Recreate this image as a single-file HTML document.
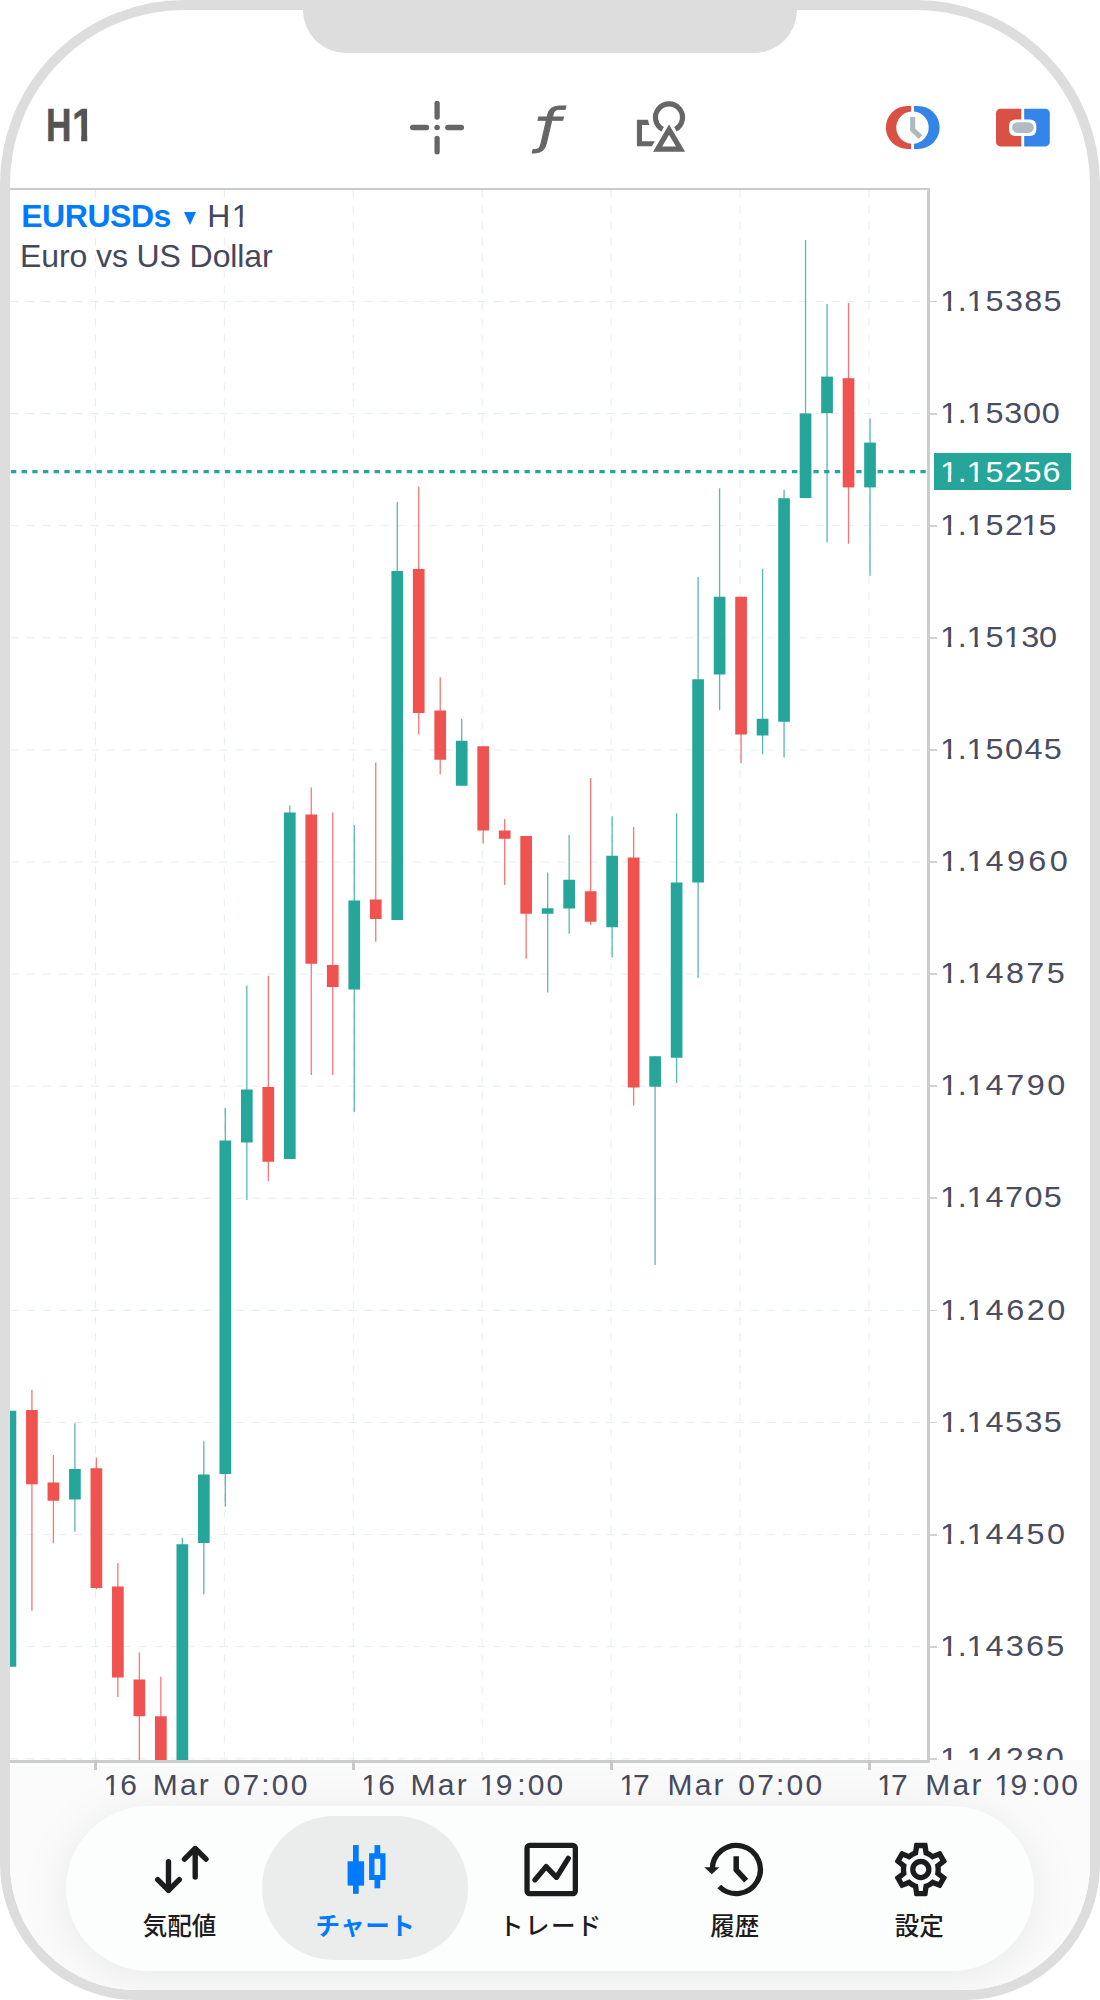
<!DOCTYPE html>
<html lang="ja">
<head>
<meta charset="utf-8">
<title>EURUSDs H1 チャート</title>
<style>
html,body{margin:0;padding:0;background:#fff;}
body{width:1100px;height:2000px;position:relative;overflow:hidden;font-family:"Liberation Sans","Noto Sans CJK JP",sans-serif;}
.frame{position:absolute;left:0;top:0;width:1100px;height:2000px;box-sizing:border-box;border:10px solid #dddddd;border-radius:184px 184px 136px 136px;overflow:hidden;background:#fff;}
.inner{position:absolute;left:-10px;top:-10px;width:1100px;height:2000px;}
.notch{position:absolute;left:303px;top:0;width:494px;height:52.5px;background:#dddddd;border-radius:0 0 43px 43px;}
.h1{position:absolute;top:98px;font-weight:bold;font-size:47px;line-height:54px;color:#545454;transform-origin:0 0;-webkit-text-stroke:0.6px #545454;}
.bottombg{position:absolute;left:0;top:1760px;width:1100px;height:238px;background:#fbfbfb;}
.ctop{position:absolute;left:10px;top:188px;width:919.8px;height:2px;background:#c9cbca;}
.cright{position:absolute;left:927.1px;top:188px;width:2.7px;height:1574.8px;background:#cbcccc;border-radius:0 0 2px 0;}
.cbot{position:absolute;left:10px;top:1760.1px;width:919.8px;height:2.7px;background:#cbcccc;border-radius:0 0 2px 0;}
.chartsvg{position:absolute;left:0;top:0;}
.title1{position:absolute;left:21.2px;top:198px;font-size:32px;line-height:36px;color:#45485a;white-space:nowrap;}
.title1 b{color:#007aff;letter-spacing:-0.45px;}
.title1 .tri{display:inline-block;width:0;height:0;border-left:6px solid transparent;border-right:6px solid transparent;border-top:13px solid #007aff;margin:0 11.3px 1.8px 13px;vertical-align:baseline;}
.title2{position:absolute;left:20px;top:237.6px;font-size:32px;letter-spacing:-0.1px;line-height:36px;color:#45485a;white-space:nowrap;}
.paxis{position:absolute;left:929.8px;top:190px;width:160.2px;height:1570px;overflow:hidden;}
.paxis .wrap{position:absolute;left:-929.8px;top:-190px;width:1100px;height:2000px;}
.pl i,.tl i,.pcur i{font-style:normal;}
.o2{display:inline-block;clip-path:polygon(0 0,100% 0,100% 20px,11px 20px,11px 100%,7.7px 100%,7.7px 20px,0 20px);}
.o{display:inline-block;clip-path:polygon(0 0,100% 0,100% 22px,10.5px 22px,10.5px 100%,7.2px 100%,7.2px 22px,0 22px);}
.pa{letter-spacing:-0.2px;}.pa2{letter-spacing:-0.2px;}.pb{letter-spacing:0.9px;}
.k1{letter-spacing:-2.8px;}.k1b{letter-spacing:0.2px;}.k2b{letter-spacing:5.2px;}.k5{letter-spacing:4.2px;}.k2{letter-spacing:7.2px;}.k3{letter-spacing:-0.3px;}.k4{letter-spacing:4.7px;}
.pl{position:absolute;left:940.4px;height:40px;line-height:40px;font-size:30px;letter-spacing:1.2px;transform:scaleX(1.08);transform-origin:0 50%;color:#4a4d5f;white-space:nowrap;}
.ptick{position:absolute;left:929.8px;width:7.2px;height:1.9px;background:#cfd0d0;}
.pcur{position:absolute;left:934px;top:453px;width:137px;height:37px;background:#26a69a;color:#fff;font-size:30px;letter-spacing:1.2px;line-height:37px;box-sizing:border-box;padding-left:6.4px;white-space:nowrap;}
.pcs{display:inline-block;transform:scaleX(1.08);transform-origin:0 50%;}
.ttick{position:absolute;top:1760px;width:2.6px;height:9.5px;background:#c8c8c8;}
.tl{position:absolute;top:1764.6px;height:40px;line-height:40px;font-size:30px;letter-spacing:2.2px;color:#484b5d;white-space:nowrap;}
.tabbar{position:absolute;left:66px;top:1805.5px;width:968px;height:165.5px;border-radius:83px;background:#fcfdfd;box-shadow:0 6px 50px rgba(0,0,0,0.08);}
.tabactive{position:absolute;left:262px;top:1816px;width:206px;height:144px;border-radius:72px;background:#ebecec;}
.tlabel{position:absolute;top:1909px;width:200px;text-align:center;font-size:24.5px;line-height:36px;color:#1c1c1e;font-weight:500;white-space:nowrap;}
.tlabel.act{color:#007aff;font-weight:700;}
.icons{position:absolute;left:0;top:0;}
</style>
</head>
<body>
<div class="frame"><div class="inner">
<div class="bottombg"></div>
<div class="notch"></div>
<div class="h1" style="left:45.7px;transform:scaleX(0.75)">H</div><div class="h1" style="left:72.2px;transform:scaleX(0.864);clip-path:polygon(0 0,17.8px 0,17.8px 100%,10.6px 100%,10.6px 30px,0 30px)">1</div>

<svg class="chartsvg" width="1100" height="2000" viewBox="0 0 1100 2000">
<defs><clipPath id="cc"><rect x="10" y="190" width="918" height="1570"/></clipPath></defs>
<rect x="10" y="190" width="918" height="1570" fill="#fff"/>
<rect x="929" y="190" width="161" height="1570" fill="#fff"/>
<g clip-path="url(#cc)">
<line x1="10.2" y1="301.50" x2="928" y2="301.50" stroke="#e4edf4" stroke-width="1" stroke-dasharray="8.05 8.05"/>
<line x1="10.2" y1="413.60" x2="928" y2="413.60" stroke="#e4edf4" stroke-width="1" stroke-dasharray="8.05 8.05"/>
<line x1="10.2" y1="525.70" x2="928" y2="525.70" stroke="#e4edf4" stroke-width="1" stroke-dasharray="8.05 8.05"/>
<line x1="10.2" y1="637.80" x2="928" y2="637.80" stroke="#e4edf4" stroke-width="1" stroke-dasharray="8.05 8.05"/>
<line x1="10.2" y1="749.90" x2="928" y2="749.90" stroke="#e4edf4" stroke-width="1" stroke-dasharray="8.05 8.05"/>
<line x1="10.2" y1="862.00" x2="928" y2="862.00" stroke="#e4edf4" stroke-width="1" stroke-dasharray="8.05 8.05"/>
<line x1="10.2" y1="974.10" x2="928" y2="974.10" stroke="#e4edf4" stroke-width="1" stroke-dasharray="8.05 8.05"/>
<line x1="10.2" y1="1086.20" x2="928" y2="1086.20" stroke="#e4edf4" stroke-width="1" stroke-dasharray="8.05 8.05"/>
<line x1="10.2" y1="1198.30" x2="928" y2="1198.30" stroke="#e4edf4" stroke-width="1" stroke-dasharray="8.05 8.05"/>
<line x1="10.2" y1="1310.40" x2="928" y2="1310.40" stroke="#e4edf4" stroke-width="1" stroke-dasharray="8.05 8.05"/>
<line x1="10.2" y1="1422.50" x2="928" y2="1422.50" stroke="#e4edf4" stroke-width="1" stroke-dasharray="8.05 8.05"/>
<line x1="10.2" y1="1534.60" x2="928" y2="1534.60" stroke="#e4edf4" stroke-width="1" stroke-dasharray="8.05 8.05"/>
<line x1="10.2" y1="1646.70" x2="928" y2="1646.70" stroke="#e4edf4" stroke-width="1" stroke-dasharray="8.05 8.05"/>
<line x1="10.2" y1="1758.80" x2="928" y2="1758.80" stroke="#e4edf4" stroke-width="1" stroke-dasharray="8.05 8.05"/>
<line x1="95.38" y1="189.7" x2="95.38" y2="1760" stroke="#e4edf4" stroke-width="1" stroke-dasharray="8.05 8.05"/>
<line x1="224.32" y1="189.7" x2="224.32" y2="1760" stroke="#e4edf4" stroke-width="1" stroke-dasharray="8.05 8.05"/>
<line x1="353.26" y1="189.7" x2="353.26" y2="1760" stroke="#e4edf4" stroke-width="1" stroke-dasharray="8.05 8.05"/>
<line x1="482.20" y1="189.7" x2="482.20" y2="1760" stroke="#e4edf4" stroke-width="1" stroke-dasharray="8.05 8.05"/>
<line x1="611.14" y1="189.7" x2="611.14" y2="1760" stroke="#e4edf4" stroke-width="1" stroke-dasharray="8.05 8.05"/>
<line x1="740.08" y1="189.7" x2="740.08" y2="1760" stroke="#e4edf4" stroke-width="1" stroke-dasharray="8.05 8.05"/>
<line x1="869.02" y1="189.7" x2="869.02" y2="1760" stroke="#e4edf4" stroke-width="1" stroke-dasharray="8.05 8.05"/>
<line x1="10.9" y1="471.7" x2="928" y2="471.7" stroke="#26a69a" stroke-width="3.2" stroke-dasharray="5.35 5.35"/>
<rect x="4.57" y="1410.75" width="11.7" height="256.00" fill="#26a69a"/>
<rect x="31.26" y="1390.00" width="1.3" height="220.75" fill="#ef5350" opacity="0.78"/>
<rect x="26.06" y="1410.00" width="11.7" height="74.25" fill="#ef5350"/>
<rect x="52.75" y="1455.00" width="1.3" height="88.25" fill="#ef5350" opacity="0.78"/>
<rect x="47.55" y="1482.50" width="11.7" height="18.25" fill="#ef5350"/>
<rect x="74.24" y="1423.25" width="1.3" height="108.50" fill="#26a69a" opacity="0.78"/>
<rect x="69.04" y="1469.00" width="11.7" height="30.50" fill="#26a69a"/>
<rect x="95.73" y="1457.50" width="1.3" height="131.75" fill="#ef5350" opacity="0.78"/>
<rect x="90.53" y="1468.25" width="11.7" height="119.75" fill="#ef5350"/>
<rect x="117.22" y="1563.00" width="1.3" height="134.00" fill="#ef5350" opacity="0.78"/>
<rect x="112.02" y="1586.50" width="11.7" height="91.00" fill="#ef5350"/>
<rect x="138.71" y="1652.50" width="1.3" height="109.50" fill="#ef5350" opacity="0.78"/>
<rect x="133.51" y="1679.50" width="11.7" height="36.75" fill="#ef5350"/>
<rect x="160.20" y="1676.75" width="1.3" height="85.25" fill="#ef5350" opacity="0.78"/>
<rect x="155.00" y="1716.25" width="11.7" height="45.75" fill="#ef5350"/>
<rect x="181.69" y="1538.00" width="1.3" height="224.00" fill="#26a69a" opacity="0.78"/>
<rect x="176.49" y="1544.25" width="11.7" height="217.75" fill="#26a69a"/>
<rect x="203.18" y="1441.25" width="1.3" height="153.00" fill="#26a69a" opacity="0.78"/>
<rect x="197.98" y="1474.50" width="11.7" height="68.50" fill="#26a69a"/>
<rect x="224.67" y="1108.00" width="1.3" height="398.75" fill="#26a69a" opacity="0.78"/>
<rect x="219.47" y="1140.50" width="11.7" height="333.50" fill="#26a69a"/>
<rect x="246.16" y="985.50" width="1.3" height="214.50" fill="#26a69a" opacity="0.78"/>
<rect x="240.96" y="1089.50" width="11.7" height="53.00" fill="#26a69a"/>
<rect x="267.65" y="975.75" width="1.3" height="205.50" fill="#ef5350" opacity="0.78"/>
<rect x="262.45" y="1087.00" width="11.7" height="74.75" fill="#ef5350"/>
<rect x="289.14" y="805.50" width="1.3" height="353.50" fill="#26a69a" opacity="0.78"/>
<rect x="283.94" y="812.50" width="11.7" height="346.50" fill="#26a69a"/>
<rect x="310.63" y="787.50" width="1.3" height="287.50" fill="#ef5350" opacity="0.78"/>
<rect x="305.43" y="814.50" width="11.7" height="149.25" fill="#ef5350"/>
<rect x="332.12" y="812.50" width="1.3" height="262.50" fill="#ef5350" opacity="0.78"/>
<rect x="326.92" y="965.00" width="11.7" height="22.00" fill="#ef5350"/>
<rect x="353.61" y="825.00" width="1.3" height="286.75" fill="#26a69a" opacity="0.78"/>
<rect x="348.41" y="900.50" width="11.7" height="89.00" fill="#26a69a"/>
<rect x="375.10" y="762.50" width="1.3" height="179.25" fill="#ef5350" opacity="0.78"/>
<rect x="369.90" y="899.50" width="11.7" height="19.50" fill="#ef5350"/>
<rect x="396.59" y="502.00" width="1.3" height="418.00" fill="#26a69a" opacity="0.78"/>
<rect x="391.39" y="571.00" width="11.7" height="349.00" fill="#26a69a"/>
<rect x="418.08" y="486.75" width="1.3" height="247.75" fill="#ef5350" opacity="0.78"/>
<rect x="412.88" y="569.00" width="11.7" height="144.00" fill="#ef5350"/>
<rect x="439.57" y="677.25" width="1.3" height="97.00" fill="#ef5350" opacity="0.78"/>
<rect x="434.37" y="710.50" width="11.7" height="49.25" fill="#ef5350"/>
<rect x="461.06" y="718.75" width="1.3" height="67.00" fill="#26a69a" opacity="0.78"/>
<rect x="455.86" y="740.75" width="11.7" height="45.00" fill="#26a69a"/>
<rect x="482.55" y="746.25" width="1.3" height="97.50" fill="#ef5350" opacity="0.78"/>
<rect x="477.35" y="746.25" width="11.7" height="84.25" fill="#ef5350"/>
<rect x="504.04" y="819.00" width="1.3" height="66.00" fill="#ef5350" opacity="0.78"/>
<rect x="498.84" y="830.50" width="11.7" height="8.25" fill="#ef5350"/>
<rect x="525.53" y="836.00" width="1.3" height="122.75" fill="#ef5350" opacity="0.78"/>
<rect x="520.33" y="836.00" width="11.7" height="77.75" fill="#ef5350"/>
<rect x="547.02" y="872.50" width="1.3" height="120.00" fill="#26a69a" opacity="0.78"/>
<rect x="541.82" y="908.25" width="11.7" height="5.50" fill="#26a69a"/>
<rect x="568.51" y="835.00" width="1.3" height="98.75" fill="#26a69a" opacity="0.78"/>
<rect x="563.31" y="879.75" width="11.7" height="28.75" fill="#26a69a"/>
<rect x="590.00" y="778.00" width="1.3" height="147.00" fill="#ef5350" opacity="0.78"/>
<rect x="584.80" y="891.25" width="11.7" height="30.50" fill="#ef5350"/>
<rect x="611.49" y="816.25" width="1.3" height="141.25" fill="#26a69a" opacity="0.78"/>
<rect x="606.29" y="855.75" width="11.7" height="71.50" fill="#26a69a"/>
<rect x="632.98" y="827.00" width="1.3" height="278.50" fill="#ef5350" opacity="0.78"/>
<rect x="627.78" y="857.50" width="11.7" height="230.00" fill="#ef5350"/>
<rect x="654.47" y="1056.25" width="1.3" height="208.75" fill="#26a69a" opacity="0.78"/>
<rect x="649.27" y="1056.25" width="11.7" height="30.50" fill="#26a69a"/>
<rect x="675.96" y="813.25" width="1.3" height="269.75" fill="#26a69a" opacity="0.78"/>
<rect x="670.76" y="882.50" width="11.7" height="175.25" fill="#26a69a"/>
<rect x="697.45" y="577.00" width="1.3" height="401.00" fill="#26a69a" opacity="0.78"/>
<rect x="692.25" y="679.25" width="11.7" height="203.25" fill="#26a69a"/>
<rect x="718.94" y="488.25" width="1.3" height="222.00" fill="#26a69a" opacity="0.78"/>
<rect x="713.74" y="596.75" width="11.7" height="77.75" fill="#26a69a"/>
<rect x="740.43" y="596.75" width="1.3" height="166.50" fill="#ef5350" opacity="0.78"/>
<rect x="735.23" y="596.75" width="11.7" height="137.75" fill="#ef5350"/>
<rect x="761.92" y="568.75" width="1.3" height="185.50" fill="#26a69a" opacity="0.78"/>
<rect x="756.72" y="718.75" width="11.7" height="16.75" fill="#26a69a"/>
<rect x="783.41" y="490.00" width="1.3" height="267.50" fill="#26a69a" opacity="0.78"/>
<rect x="778.21" y="498.25" width="11.7" height="223.50" fill="#26a69a"/>
<rect x="804.90" y="240.00" width="1.3" height="258.00" fill="#26a69a" opacity="0.78"/>
<rect x="799.70" y="413.40" width="11.7" height="84.60" fill="#26a69a"/>
<rect x="826.39" y="304.00" width="1.3" height="238.50" fill="#26a69a" opacity="0.78"/>
<rect x="821.19" y="376.60" width="11.7" height="36.60" fill="#26a69a"/>
<rect x="847.88" y="303.00" width="1.3" height="240.75" fill="#ef5350" opacity="0.78"/>
<rect x="842.68" y="378.20" width="11.7" height="109.20" fill="#ef5350"/>
<rect x="869.37" y="418.60" width="1.3" height="157.15" fill="#26a69a" opacity="0.78"/>
<rect x="864.17" y="442.60" width="11.7" height="44.80" fill="#26a69a"/>
</g>
</svg>
<div class="ctop"></div><div class="cright"></div><div class="cbot"></div>

<div class="title1"><b>EURUSDs</b><span class="tri"></span><span style="letter-spacing:1.3px">H</span><span class="o2">1</span></div>
<div class="title2">Euro vs US Dollar</div>

<div class="paxis"><div class="wrap">
<div class="ptick" style="top:300.60px"></div>
<div class="ptick" style="top:412.70px"></div>
<div class="ptick" style="top:524.80px"></div>
<div class="ptick" style="top:636.90px"></div>
<div class="ptick" style="top:749.00px"></div>
<div class="ptick" style="top:861.10px"></div>
<div class="ptick" style="top:973.20px"></div>
<div class="ptick" style="top:1085.30px"></div>
<div class="ptick" style="top:1197.40px"></div>
<div class="ptick" style="top:1309.50px"></div>
<div class="ptick" style="top:1421.60px"></div>
<div class="ptick" style="top:1533.70px"></div>
<div class="ptick" style="top:1645.80px"></div>
<div class="ptick" style="top:1757.90px"></div>
<div class="pl" style="top:280.60px"><i class="o pa">1</i><i class="pa2">.</i><i class="o pb">1</i><i style="letter-spacing:1.20px">5385</i></div>
<div class="pl" style="top:392.70px"><i class="o pa">1</i><i class="pa2">.</i><i class="o pb">1</i><i style="letter-spacing:0.61px">5300</i></div>
<div class="pl" style="top:504.80px"><i class="o pa">1</i><i class="pa2">.</i><i class="o pb">1</i>5<i style="letter-spacing:-1.58px">2</i><i class="o" style="letter-spacing:-0.65px">1</i>5</div>
<div class="pl" style="top:616.90px"><i class="o pa">1</i><i class="pa2">.</i><i class="o pb">1</i><i style="letter-spacing:-0.22px">5<i class="o">1</i>30</i></div>
<div class="pl" style="top:729.00px"><i class="o pa">1</i><i class="pa2">.</i><i class="o pb">1</i><i style="letter-spacing:1.29px">5045</i></div>
<div class="pl" style="top:841.10px"><i class="o pa">1</i><i class="pa2">.</i><i class="o pb">1</i><i style="letter-spacing:3.11px">4960</i></div>
<div class="pl" style="top:953.20px"><i class="o pa">1</i><i class="pa2">.</i><i class="o pb">1</i><i style="letter-spacing:2.16px">4875</i></div>
<div class="pl" style="top:1065.30px"><i class="o pa">1</i><i class="pa2">.</i><i class="o pb">1</i><i style="letter-spacing:2.31px">4790</i></div>
<div class="pl" style="top:1177.40px"><i class="o pa">1</i><i class="pa2">.</i><i class="o pb">1</i><i style="letter-spacing:1.29px">4705</i></div>
<div class="pl" style="top:1289.50px"><i class="o pa">1</i><i class="pa2">.</i><i class="o pb">1</i><i style="letter-spacing:2.31px">4620</i></div>
<div class="pl" style="top:1401.60px"><i class="o pa">1</i><i class="pa2">.</i><i class="o pb">1</i><i style="letter-spacing:1.29px">4535</i></div>
<div class="pl" style="top:1513.70px"><i class="o pa">1</i><i class="pa2">.</i><i class="o pb">1</i><i style="letter-spacing:2.28px">4450</i></div>
<div class="pl" style="top:1625.80px"><i class="o pa">1</i><i class="pa2">.</i><i class="o pb">1</i><i style="letter-spacing:2.00px">4365</i></div>
<div class="pl" style="top:1737.90px"><i class="o pa">1</i><i class="pa2">.</i><i class="o pb">1</i><i style="letter-spacing:1.91px">4280</i></div>
<div class="pcur"><span class="pcs"><i class="o pa">1</i><i class="pa2">.</i><i class="o pb">1</i><i style="letter-spacing:0.89px">5256</i></span></div>
</div></div>

<div class="ttick" style="left:94.28px"></div><div class="tl" style="left:103.38px"><i class="o k1b">1</i><i class="k2b">6</i> Mar<i class="k5"> </i>07:00</div>
<div class="ttick" style="left:352.16px"></div><div class="tl" style="left:361.26px"><i class="o k1b">1</i><i class="k2b">6</i> Mar <i class="o k3">1</i><i class="k4">9</i>:00</div>
<div class="ttick" style="left:610.04px"></div><div class="tl" style="left:619.14px"><i class="o k1">1</i><i class="k2">7</i> Mar<i class="k5"> </i>07:00</div>
<div class="ttick" style="left:867.92px"></div><div class="tl" style="left:877.02px"><i class="o k1">1</i><i class="k2">7</i> Mar <i class="o k3">1</i><i class="k4">9</i>:00</div>

<div class="tabbar"></div>
<div class="tabactive"></div>
<div class="tlabel" style="left:79.5px">気配値</div>
<div class="tlabel act" style="left:265.4px;letter-spacing:0.5px">チャート</div>
<div class="tlabel" style="left:450.9px;letter-spacing:1.4px">トレード</div>
<div class="tlabel" style="left:634.7px">履歴</div>
<div class="tlabel" style="left:819.2px">設定</div>

<svg class="icons" width="1100" height="2000" viewBox="0 0 1100 2000">
<!-- crosshair -->
<g stroke="#666" stroke-width="5.3" stroke-linecap="round" fill="none">
<line x1="437.1" y1="103.4" x2="437.1" y2="117"/>
<line x1="437.1" y1="138.4" x2="437.1" y2="151.8"/>
<line x1="412.7" y1="127.5" x2="426.5" y2="127.5"/>
<line x1="447.8" y1="127.5" x2="461.4" y2="127.5"/>
</g>
<circle cx="437.1" cy="127.5" r="2.8" fill="#666"/>
<!-- function f -->
<text transform="translate(530.2 142.6) scale(1.21 1)" x="0" y="0" font-family="'DejaVu Sans Mono','Liberation Mono',monospace" font-style="italic" font-size="48" fill="#666" stroke="#666" stroke-width="0.9">ƒ</text>
<!-- shapes -->
<g fill="none" stroke="#666" stroke-width="5.2">
<path d="M662.6 129.3 A13.5 13.5 0 1 1 675.4 129.3"/>
<path d="M636.9 119.8 H648 L649.2 124.9 H642 V141.2 H654.8 L651.9 146.2 H636.9 Z" fill="#666" stroke="none"/>
<path d="M669 129.6 L680.6 149.2 H657.6 Z" stroke-linejoin="miter"/>
</g>
<!-- clock icon -->
<path d="M911.1 105.9 H907.4 A21.55 21.55 0 0 0 907.4 149 H911.1 V143.74 A16.2 16.2 0 0 1 911.1 111.46 Z" fill="#d95045"/>
<path d="M914 105.9 H918.1 A21.55 21.55 0 0 1 918.1 149 H914 V143.73 A16.2 16.2 0 0 0 914 111.47 Z" fill="#3584e8"/>
<path d="M912.65 117.1 V129.6 L920.5 137.2" fill="none" stroke="#adb9be" stroke-width="5.1"/>
<!-- one click icon -->
<path d="M1021.3 108.7 H1000.5 A4.5 4.5 0 0 0 996 113.2 V141.9 A4.5 4.5 0 0 0 1000.5 146.4 H1021.3 Z" fill="#d95045"/>
<path d="M1024.2 108.7 H1045.3 A4.5 4.5 0 0 1 1049.8 113.2 V141.9 A4.5 4.5 0 0 1 1045.3 146.4 H1024.2 Z" fill="#3584e8"/>
<rect x="1009" y="119.4" width="27.3" height="16.5" rx="6" fill="#fff"/>
<rect x="1012.1" y="122.2" width="21.7" height="10.7" rx="5.35" fill="#b0bcc1"/>

<!-- tab 1 arrows -->
<g fill="none" stroke="#1c1c1e" stroke-width="5.4" stroke-linecap="round" stroke-linejoin="round">
<path d="M168.5 1861.7 V1890"/><path d="M157.7 1879.6 L168.5 1890.4 L179.3 1879.6"/>
<path d="M195.2 1877 V1849"/><path d="M184.5 1859.2 L195.2 1848.5 L206 1859.2"/>
</g>
<!-- tab 2 candles -->
<g fill="#007aff">
<rect x="353" y="1845.1" width="5.7" height="48.7"/>
<rect x="347.6" y="1861.3" width="16.5" height="24.3"/>
<rect x="374.5" y="1845.1" width="5.7" height="10"/>
<rect x="374.5" y="1878" width="5.7" height="10.3"/>
<path d="M369.1 1853.3 H385.5 V1880 H369.1 Z M374.5 1858.7 V1874.9 H380.3 V1858.7 Z" fill-rule="evenodd"/>
</g>
<!-- tab 3 trade -->
<g fill="none" stroke="#1c1c1e" stroke-width="5.3">
<rect x="527.05" y="1845.45" width="48.3" height="48.1" rx="2.5"/>
<path d="M535 1879.9 L546.1 1866.6 L556.5 1877.3 L568.3 1858.4" stroke-linecap="round" stroke-linejoin="round"/>
</g>
<!-- tab 4 history -->
<g fill="none" stroke="#1c1c1e" stroke-width="5.3">
<path d="M712.25 1869.5 A24.05 24.05 0 1 1 719.3 1886.5"/>
<path d="M736.2 1856.2 V1869.8 L746.2 1880.6" stroke-width="5.5"/>
</g>
<path d="M704.3 1867.2 H719.4 L711.8 1874.3 Z" fill="#1c1c1e"/>
<!-- tab 5 settings -->
<g transform="translate(888.8 1837.5) scale(2.67)" fill="#1c1c1e">
<path d="M19.43 12.98c.04-.32.07-.64.07-.98 0-.34-.03-.66-.07-.98l2.110-1.650c.19-.15.24-.42.12-.64l-2-3.460c-.09-.16-.26-.25-.44-.25-.06 0-.12.010-.17.030l-2.490 1c-.52-.4-1.080-.73-1.690-.98l-.38-2.650C14.460 2.180 14.250 2 14 2h-4c-.25 0-.46.180-.49.420l-.38 2.650c-.61.250-1.170.59-1.690.98l-2.490-1c-.06-.02-.12-.03-.18-.03-.17 0-.34.090-.43.250l-2 3.460c-.13.220-.07.490.12.640l2.110 1.650c-.04.320-.07.650-.07.980 0 .33.030.66.070.98l-2.110 1.650c-.19.150-.24.420-.12.640l2 3.460c.09.160.26.250.44.250.06 0 .12-.01.17-.03l2.490-1c.52.4 1.080.73 1.690.98l.38 2.650c.03.240.24.420.49.420h4c.25 0 .46-.18.490-.42l.38-2.650c.61-.25 1.170-.59 1.690-.98l2.490 1c.06.020.12.030.18.030.17 0 .34-.09.430-.25l2-3.460c.12-.22.070-.49-.12-.64l-2.110-1.650zm-1.980-1.710c.04.310.05.520.05.730 0 .21-.02.430-.05.730l-.14 1.130.89.700 1.080.84-.7 1.210-1.270-.51-1.040-.42-.9.680c-.43.320-.84.560-1.250.73l-1.060.43-.16 1.130-.2 1.350h-1.400l-.19-1.350-.16-1.130-1.060-.43c-.43-.18-.83-.41-1.230-.71l-.91-.7-1.060.43-1.270.51-.7-1.210 1.080-.84.890-.7-.14-1.130c-.03-.31-.05-.54-.05-.74s.02-.43.050-.73l.14-1.130-.89-.7-1.080-.84.700-1.210 1.270.51 1.040.42.900-.68c.43-.32.840-.56 1.250-.73l1.060-.43.160-1.130.2-1.350h1.390l.19 1.350.16 1.130 1.060.43c.43.180.83.410 1.230.71l.91.700 1.060-.43 1.270-.51.700 1.210-1.070.85-.89.700.14 1.130zM12 8c-2.210 0-4 1.790-4 4s1.790 4 4 4 4-1.790 4-4-1.790-4-4-4zm0 6c-1.100 0-2-.9-2-2s.9-2 2-2 2 .9 2 2-.9 2-2 2z"/>
</g>
</svg>
</div></div>
</body>
</html>
